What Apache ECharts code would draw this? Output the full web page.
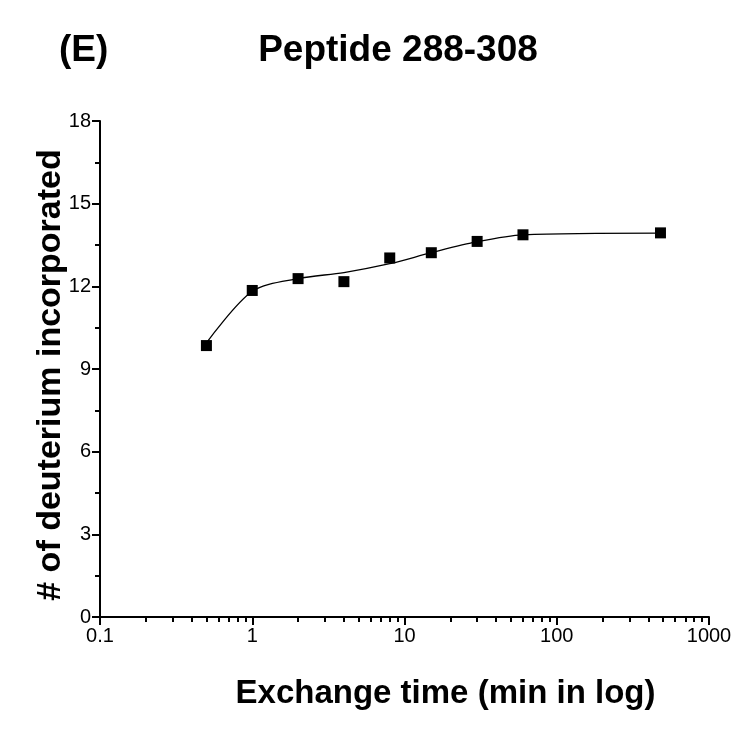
<!DOCTYPE html>
<html>
<head>
<meta charset="utf-8">
<script src="https://cdn.jsdelivr.net/npm/echarts@6/dist/echarts.min.js"></script>
<style>
  html, body { margin: 0; padding: 0; background: #fff; }
  #chart { width: 750px; height: 729px; }
</style>
</head>
<body>
<div id="chart"></div>
<script>
// exchange time (min) and measured deuterium uptake
var times = [0.5, 1, 2, 4, 8, 15, 30, 60, 480];
var deuterium = [9.85, 11.85, 12.28, 12.17, 13.03, 13.22, 13.63, 13.87, 13.94];
// fitted curve at the same times
var fitCurve = [9.95, 11.82, 12.28, 12.5, 12.82, 13.22, 13.62, 13.87, 13.93];
var xTicks = [0.1, 1, 10, 100, 1000];
var xMinorTicks = [0.2, 0.3, 0.4, 0.5, 0.6, 0.7, 0.8, 0.9,
  2, 3, 4, 5, 6, 7, 8, 9, 20, 30, 40, 50, 60, 70, 80, 90,
  200, 300, 400, 500, 600, 700, 800, 900];

var font = "'Liberation Sans', Arial, sans-serif";
var chart = echarts.init(document.getElementById("chart"));

function pairs(xs, ys) {
  return xs.map(function (x, i) { return [x, ys[i]]; });
}

var option = {
  animation: false,
  backgroundColor: "#fff",
  title: [
    {
      text: "Peptide 288-308",
      left: 393, top: 27, textAlign: "center",
      textStyle: { fontFamily: font, fontSize: 37, fontWeight: "bold", color: "#000" }
    },
    {
      text: "(E)",
      left: 54, top: 27,
      textStyle: { fontFamily: font, fontSize: 37, fontWeight: "bold", color: "#000" }
    }
  ],
  grid: { left: 100, right: 41, top: 121, bottom: 112 },
  xAxis: [
    {
      type: "log", logBase: 10, min: 0.1, max: 1000,
      name: "Exchange time (min in log)",
      nameLocation: "middle", nameGap: 60,
      nameTextStyle: { fontFamily: font, fontSize: 33, fontWeight: "bold", color: "#000", padding: [0, 0, 0, 82] },
      axisLine: { onZero: false, lineStyle: { color: "#000", width: 2 } },
      axisTick: { inside: false, length: 8, lineStyle: { color: "#000", width: 2 }, customValues: xTicks },
      axisLabel: { fontFamily: font, fontSize: 20, color: "#000", margin: 9, customValues: xTicks,
        formatter: function (v) { return String(v); } },
      splitLine: { show: false },
      minorTick: { show: false }
    },
    {
      type: "log", logBase: 10, min: 0.1, max: 1000,
      position: "bottom",
      axisLine: { show: false, onZero: false },
      axisTick: { length: 5, lineStyle: { color: "#000", width: 2 }, customValues: xMinorTicks },
      axisLabel: { show: false },
      splitLine: { show: false }
    }
  ],
  yAxis: {
    type: "value", min: 0, max: 18, interval: 3,
    name: "# of deuterium incorporated",
    nameLocation: "middle", nameGap: 32,
    nameMoveOverlap: false,
    nameTextStyle: { fontFamily: font, fontSize: 34, fontWeight: "bold", color: "#000", padding: [0, 12, 0, 0] },
    axisLine: { show: true, lineStyle: { color: "#000", width: 2 } },
    axisTick: { show: true, length: 8, lineStyle: { color: "#000", width: 2 } },
    minorTick: { show: true, splitNumber: 2, length: 5, lineStyle: { color: "#000", width: 2 } },
    axisLabel: { fontFamily: font, fontSize: 20, color: "#000", margin: 9 },
    splitLine: { show: false }
  },
  series: [
    {
      name: "fit",
      type: "line",
      data: pairs(times, fitCurve),
      smooth: 0.3,
      showSymbol: false,
      lineStyle: { color: "#000", width: 1.3 },
      z: 2
    },
    {
      name: "data",
      type: "scatter",
      data: pairs(times, deuterium),
      symbol: "rect",
      symbolSize: 11,
      itemStyle: { color: "#000", opacity: 1 },
      z: 3
    }
  ]
};

chart.setOption(option);
</script>
</body>
</html>
